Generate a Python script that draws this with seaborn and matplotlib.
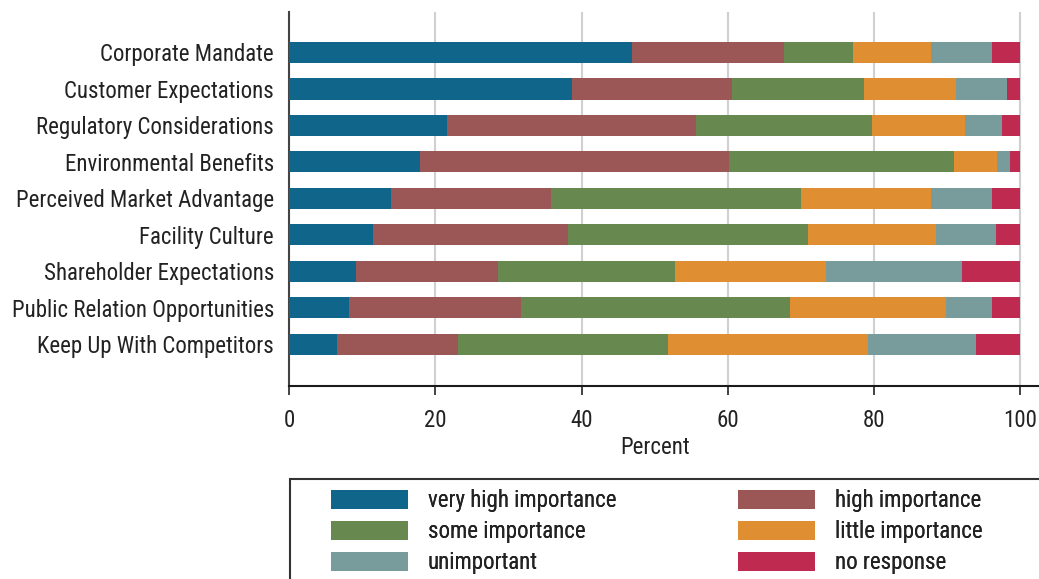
import matplotlib
matplotlib.use("Agg")
import matplotlib.pyplot as plt
from matplotlib.patches import Rectangle, Patch
import numpy as np
import pandas as pd
import seaborn as sns

categories = [
    "Corporate Mandate",
    "Customer Expectations",
    "Regulatory Considerations",
    "Environmental Benefits",
    "Perceived Market Advantage",
    "Facility Culture",
    "Shareholder Expectations",
    "Public Relation Opportunities",
    "Keep Up With Competitors",
]

very_high = [46.9, 38.7, 21.6, 17.9, 13.9, 11.5, 9.1, 8.2, 6.5]
high = [20.8, 21.9, 34.1, 42.3, 21.9, 26.6, 19.5, 23.5, 16.6]
some = [9.4, 18.0, 24.0, 30.8, 34.2, 32.9, 24.2, 36.8, 28.7]
little = [10.7, 12.6, 12.8, 5.8, 17.8, 17.5, 20.6, 21.4, 27.4]
unimportant = [8.4, 7.0, 5.0, 1.8, 8.4, 8.2, 18.7, 6.3, 14.8]
no_response = [3.8, 1.8, 2.5, 1.4, 3.8, 3.3, 7.9, 3.8, 6.0]

series_names = ["very high importance", "high importance", "some importance",
                "little importance", "unimportant", "no response"]
series_values = [very_high, high, some, little, unimportant, no_response]
series_colors = ["#10668a", "#9a5756", "#67894f", "#df8f31", "#779c9b", "#bf2b50"]

x_ticks = [0, 20, 40, 60, 80, 100]

sns.set_theme(style="white")
plt.rcParams["font.family"] = ["Roboto Condensed", "DejaVu Sans"]
FS = 16.5
TEXT = "#222222"

W, H = 1039, 579
fig = plt.figure(figsize=(W / 100, H / 100), dpi=100)
ax = fig.add_axes([289.3 / W, 193.3 / H, 1 - 289.3 / W, (567 - 193.3) / H])

df = pd.DataFrame({"category": categories})
cum = np.zeros(len(categories))
cumulative = []
for vals in series_values:
    cum = cum + np.array(vals)
    cumulative.append(cum.copy())

# stacked bars: the longest running total first, shorter totals drawn over it
for name, color, totals in reversed(list(zip(series_names, series_colors, cumulative))):
    d = df.assign(total=totals)
    sns.barplot(data=d, x="total", y="category", color=color, orient="h",
                width=0.58, saturation=1, linewidth=0, edgecolor="none",
                ax=ax, zorder=3)

ax.set_xlim(0, 102.6)
ax.set_ylim(len(categories) - 1 + 1.14, -1.11)
ax.set_xticks(x_ticks)
ax.set_xticklabels([str(t) for t in x_ticks])
ax.xaxis.grid(True, color="#d0d0d0", linewidth=1.5, zorder=0)
ax.set_axisbelow(True)
ax.yaxis.grid(False)

for s in ["top", "right"]:
    ax.spines[s].set_visible(False)
ax.spines["left"].set_color("#444444")
ax.spines["left"].set_linewidth(1.5)
ax.spines["bottom"].set_color("#1a1a1a")
ax.spines["bottom"].set_linewidth(1.5)

ax.tick_params(axis="x", bottom=True, direction="out", length=6.5, width=1.2,
               color="#222222", labelsize=FS, labelcolor=TEXT, pad=10)
ax.tick_params(axis="y", left=False, labelsize=FS, labelcolor=TEXT, pad=5)

ax.set_ylabel("")
ax.set_xlabel("Percent", fontsize=FS, color=TEXT)
ax.xaxis.set_label_coords(50 / 102.6, -(448 - 385.7) / (385.7 - 12))
ax.xaxis.label.set_va("center")

# legend frame running off the bottom and right of the figure
fig.patches.append(Rectangle((289.5 / W, -0.05), 0.8, (H - 479) / H + 0.05,
                             transform=fig.transFigure, fill=False,
                             edgecolor="#333333", linewidth=1.5))

handles = [Patch(facecolor=c, edgecolor="none") for c in series_colors]
legend_kw = dict(frameon=False, fontsize=FS, loc="upper left", borderpad=0,
                 borderaxespad=0, handlelength=77 / 22.9, handleheight=0.9,
                 handletextpad=0.85, labelspacing=0.36, labelcolor=TEXT)
for col, x0 in ((0, 331), (1, 738)):
    idx = [col, col + 2, col + 4]
    leg = fig.legend([handles[i] for i in idx], [series_names[i] for i in idx],
                     bbox_to_anchor=(x0 / W, 1 - 489 / H), **legend_kw)
    fig.add_artist(leg)

fig.savefig("out.png", dpi=100)
